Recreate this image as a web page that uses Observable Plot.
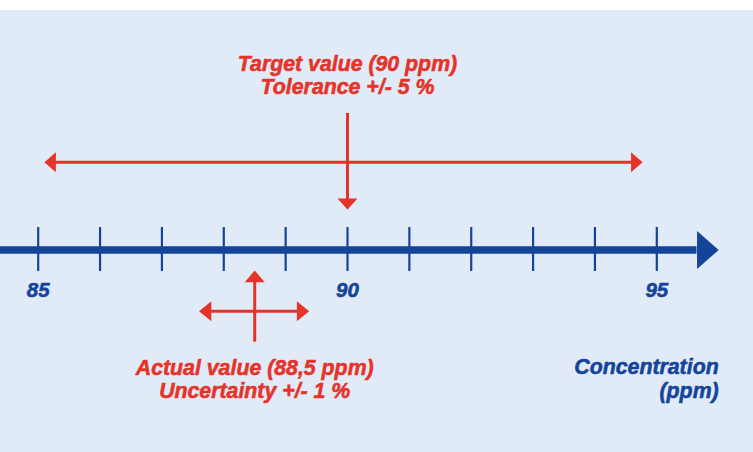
<!DOCTYPE html>
<html>
<head>
<meta charset="utf-8">
<script src="https://cdn.jsdelivr.net/npm/d3@7"></script>
<script src="https://cdn.jsdelivr.net/npm/@observablehq/plot@0.6"></script>
<style>
  html, body { margin: 0; padding: 0; background: #ffffff; }
  #chart { padding-top: 10px; width: 753px; }
  #chart svg { display: block; }
</style>
</head>
<body>
<div id="chart"></div>
<script>
// ---- data ----
const ticks = [85, 86, 87, 88, 89, 90, 91, 92, 93, 94, 95];
const tickLabels = [85, 90, 95];
const targetValue = [90];
const targetRange = [85.1, 94.77];   // ends of the tolerance arrow
const actualValue = [88.5];
const actualRange = [87.6, 89.38];   // ends of the uncertainty arrow
const targetText = ["Target value (90 ppm)\nTolerance +/- 5 %"];
const actualText = ["Actual value (88,5 ppm)\nUncertainty +/- 1 %"];
const axisTitle = ["Concentration\n(ppm)"];
const axisExtent = [84.3, 95.65, 96.0]; // start, head base, head tip

// ---- layout (svg pixels) ----
const L = {
  axisY: 239.5, tickTop: 217, tickBottom: 261, tickLabelTop: 271.5,
  targetTextTop: 43.5, targetArrowY: 151.7, targetVTop: 103, targetVTip: 199,
  actualVTip: 260, actualVBottom: 331.7, actualArrowY: 300.7, actualTextTop: 347.5,
  titleTop: 346.5, titleRight: 96.0
};
const blue = "#14449a", red = "#e5332a", bg = "#e1ebf7";
const font = "'Liberation Sans', Arial, sans-serif";

const head = (len, wid) => ({
  draw(ctx) { ctx.moveTo(0, 0); ctx.lineTo(-len, -wid / 2); ctx.lineTo(-len, wid / 2); ctx.closePath(); }
});

const txt = {fontFamily: font, fontWeight: "bold", fontStyle: "italic", lineAnchor: "top", strokeWidth: 0.55};

const chart = Plot.plot({
  width: 753,
  height: 442,
  margin: 0,
  x: {domain: [85, 95], range: [37.7, 656.3], axis: null},
  y: {type: "identity", axis: null},
  style: {background: bg, overflow: "visible"},
  marks: [
    // main axis
    Plot.ruleY([L.axisY], {x1: axisExtent[0], x2: axisExtent[1], stroke: blue, strokeWidth: 7.5}),
    Plot.dot([axisExtent[2]], {x: d => d, y: L.axisY, symbol: head(21.6, 38), fill: blue, stroke: null, r: 1}),
    Plot.ruleX(ticks, {x: d => d, y1: L.tickTop, y2: L.tickBottom, stroke: blue, strokeWidth: 2.2}),
    Plot.text(tickLabels, {x: d => d, y: L.tickLabelTop, text: d => String(d), fill: blue, stroke: blue, fontSize: 20.5, ...txt}),

    // target
    Plot.ruleY([L.targetArrowY], {x1: targetRange[0], x2: targetRange[1], stroke: red, strokeWidth: 3, insetLeft: 6, insetRight: 6}),
    Plot.dot([targetRange[0]], {x: d => d, y: L.targetArrowY, symbol: head(11.5, 20), rotate: 180, fill: red, stroke: null, r: 1}),
    Plot.dot([targetRange[1]], {x: d => d, y: L.targetArrowY, symbol: head(11.5, 20), rotate: 0, fill: red, stroke: null, r: 1}),
    Plot.ruleX(targetValue, {x: d => d, y1: L.targetVTop, y2: L.targetVTip, stroke: red, strokeWidth: 3, insetBottom: 6}),
    Plot.dot(targetValue, {x: d => d, y: L.targetVTip, symbol: head(11, 20), rotate: 90, fill: red, stroke: null, r: 1}),
    Plot.text(targetText, {x: targetValue[0], y: L.targetTextTop, text: d => d, fill: red, stroke: red, fontSize: 21.3, lineHeight: 1.1, ...txt}),

    // actual
    Plot.ruleY([L.actualArrowY], {x1: actualRange[0], x2: actualRange[1], stroke: red, strokeWidth: 3, insetLeft: 6, insetRight: 6}),
    Plot.dot([actualRange[0]], {x: d => d, y: L.actualArrowY, symbol: head(12.3, 20), rotate: 180, fill: red, stroke: null, r: 1}),
    Plot.dot([actualRange[1]], {x: d => d, y: L.actualArrowY, symbol: head(12.3, 20), rotate: 0, fill: red, stroke: null, r: 1}),
    Plot.ruleX(actualValue, {x: d => d, y1: L.actualVTip, y2: L.actualVBottom, stroke: red, strokeWidth: 3, insetTop: 6}),
    Plot.dot(actualValue, {x: d => d, y: L.actualVTip, symbol: head(11.7, 20), rotate: -90, fill: red, stroke: null, r: 1}),
    Plot.text(actualText, {x: actualValue[0], y: L.actualTextTop, text: d => d, fill: red, stroke: red, fontSize: 21.3, lineHeight: 1.1, ...txt}),

    // axis title
    Plot.text(axisTitle, {x: L.titleRight, y: L.titleTop, text: d => d, fill: blue, stroke: blue, fontSize: 21.3, lineHeight: 1.12, textAnchor: "end", ...txt})
  ]
});
document.getElementById("chart").appendChild(chart);
</script>
</body>
</html>
